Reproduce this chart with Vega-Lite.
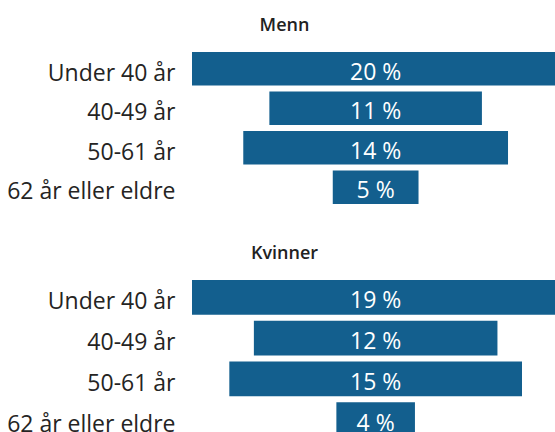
{
  "$schema": "https://vega.github.io/schema/vega-lite/v6.json",
  "padding": {"left": 6, "top": 17, "right": 0, "bottom": 0},
  "background": "#ffffff",
  "config": {
    "view": {"stroke": null},
    "font": "Open Sans",
    "concat": {"spacing": 38}
  },
  "data": {
    "values": [
      {"kjonn": "Menn", "alder": "Under 40 år", "andel": 19.7, "etikett": "20 %"},
      {"kjonn": "Menn", "alder": "40-49 år", "andel": 11.4, "etikett": "11 %"},
      {"kjonn": "Menn", "alder": "50-61 år", "andel": 14.2, "etikett": "14 %"},
      {"kjonn": "Menn", "alder": "62 år eller eldre", "andel": 4.6, "etikett": "5 %"},
      {"kjonn": "Kvinner", "alder": "Under 40 år", "andel": 18.7, "etikett": "19 %"},
      {"kjonn": "Kvinner", "alder": "40-49 år", "andel": 12.4, "etikett": "12 %"},
      {"kjonn": "Kvinner", "alder": "50-61 år", "andel": 14.9, "etikett": "15 %"},
      {"kjonn": "Kvinner", "alder": "62 år eller eldre", "andel": 4.0, "etikett": "4 %"}
    ]
  },
  "vconcat": [
    {
      "title": {"text": "Menn", "anchor": "middle", "frame": "group", "dx": -89, "fontSize": 18, "fontWeight": 600, "font": "Open Sans", "color": "#222222", "baseline": "alphabetic", "offset": 0},
      "width": 363,
      "height": 158,
      "transform": [{"filter": "datum.kjonn === 'Menn'"}],
      "encoding": {
        "y": {
          "field": "alder", "type": "nominal",
          "sort": ["Under 40 år", "40-49 år", "50-61 år", "62 år eller eldre"],
          "scale": {"paddingInner": 0.146, "paddingOuter": 0.073},
          "axis": {"title": null, "domain": false, "ticks": false, "labelFontSize": 23, "labelFont": "Open Sans", "labelColor": "#252423", "labelPadding": 17, "labelOffset": 5, "labelLimit": 300}
        }
      },
      "layer": [
        {
          "mark": {"type": "bar", "color": "#135f8e", "clip": true},
          "encoding": {
            "x": {"field": "andel", "type": "quantitative", "stack": "center", "scale": {"domain": [0, 19.47], "nice": false, "zero": false}, "axis": null}
          }
        },
        {
          "mark": {"type": "text", "color": "#ffffff", "fontSize": 23, "font": "Open Sans", "dy": 4},
          "encoding": {
            "x": {"field": "andel", "type": "quantitative", "stack": "center", "bandPosition": 0.5},
            "text": {"field": "etikett"}
          }
        }
      ]
    },
    {
      "title": {"text": "Kvinner", "anchor": "middle", "frame": "group", "dx": -89, "fontSize": 18, "fontWeight": 600, "font": "Open Sans", "color": "#222222", "baseline": "alphabetic", "offset": 0},
      "width": 363,
      "height": 163,
      "transform": [{"filter": "datum.kjonn === 'Kvinner'"}],
      "encoding": {
        "y": {
          "field": "alder", "type": "nominal",
          "sort": ["Under 40 år", "40-49 år", "50-61 år", "62 år eller eldre"],
          "scale": {"paddingInner": 0.146, "paddingOuter": 0.073},
          "axis": {"title": null, "domain": false, "ticks": false, "labelFontSize": 23, "labelFont": "Open Sans", "labelColor": "#252423", "labelPadding": 17, "labelOffset": 5, "labelLimit": 300}
        }
      },
      "layer": [
        {
          "mark": {"type": "bar", "color": "#135f8e", "clip": true},
          "encoding": {
            "x": {"field": "andel", "type": "quantitative", "stack": "center", "scale": {"domain": [0, 18.48], "nice": false, "zero": false}, "axis": null}
          }
        },
        {
          "mark": {"type": "text", "color": "#ffffff", "fontSize": 23, "font": "Open Sans", "dy": 4},
          "encoding": {
            "x": {"field": "andel", "type": "quantitative", "stack": "center", "bandPosition": 0.5},
            "text": {"field": "etikett"}
          }
        }
      ]
    }
  ]
}
